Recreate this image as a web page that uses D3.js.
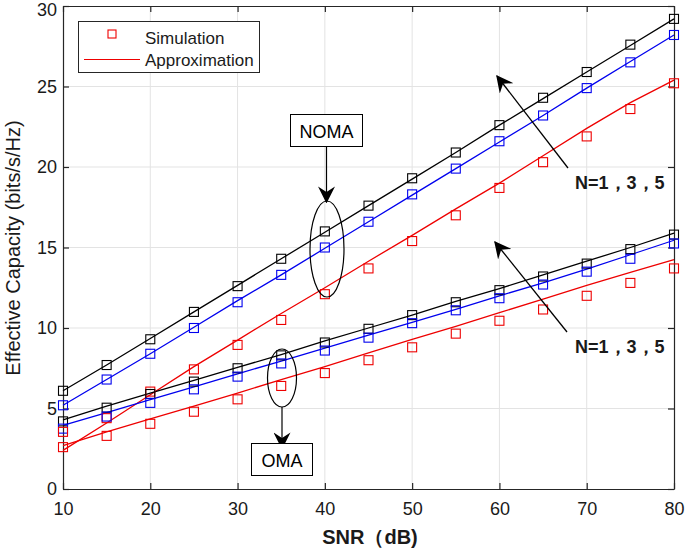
<!DOCTYPE html>
<html><head><meta charset="utf-8">
<script src="https://cdn.jsdelivr.net/npm/d3@7/dist/d3.min.js"></script>
<style>
body{margin:0;background:#fff;}
text{font-family:"Liberation Sans",Arial,Helvetica,sans-serif;}
</style></head>
<body><svg id="chart" width="685" height="548"></svg>
<script>
const snr = [10,15,20,25,30,35,40,45,50,55,60,65,70,75,80];
const xTicks = [10,20,30,40,50,60,70,80];
const yTicks = [0,5,10,15,20,25,30];

// NOMA
const nomaN5Sim = [6.1,7.7,9.3,11.0,12.6,14.3,16.0,17.6,19.3,20.9,22.6,24.3,25.9,27.6,29.2];
const nomaN5App = [6.1,7.7,9.35,11.0,12.65,14.3,15.95,17.6,19.25,20.9,22.6,24.25,25.9,27.55,29.2];
const nomaN3Sim = [5.2,6.8,8.4,10.0,11.6,13.3,15.0,16.6,18.3,19.9,21.6,23.2,24.9,26.5,28.2];
const nomaN3App = [5.2,6.8,8.4,10.05,11.7,13.3,14.95,16.6,18.25,19.9,21.55,23.2,24.9,26.55,28.2];
const nomaN1Sim = [2.6,4.4,6.05,7.43,8.95,10.5,12.1,13.7,15.4,17.0,18.7,20.3,21.9,23.6,25.2];
const nomaN1App = [2.4,4.1,5.85,7.6,9.25,10.9,12.5,14.15,15.75,17.4,19.0,20.7,22.4,24.0,25.4];
// OMA
const omaN5Sim = [4.2,5.05,5.9,6.67,7.5,8.3,9.1,9.95,10.8,11.6,12.35,13.2,14.0,14.9,15.8];
const omaN5App = [4.3,5.15,5.95,6.75,7.55,8.35,9.2,10.0,10.8,11.65,12.45,13.3,14.15,15.0,15.9];
const omaN3Sim = [3.75,4.5,5.35,6.19,6.98,7.8,8.6,9.4,10.3,11.1,11.85,12.7,13.5,14.3,15.25];
const omaN3App = [3.95,4.75,5.55,6.35,7.15,7.95,8.75,9.55,10.35,11.15,12.0,12.8,13.65,14.55,15.45];
const omaN1Sim = [3.55,3.3,4.05,4.8,5.57,6.4,7.2,8.0,8.8,9.65,10.45,11.15,12.0,12.8,13.7];
const omaN1App = [2.7,3.55,4.35,5.15,5.95,6.8,7.6,8.45,9.3,10.1,10.95,11.8,12.65,13.45,14.25];

const seriesNames = ["NOMA N=5","NOMA N=3","NOMA N=1","OMA N=5","OMA N=3","OMA N=1"];
const simData = [nomaN5Sim,nomaN3Sim,nomaN1Sim,omaN5Sim,omaN3Sim,omaN1Sim];
const appData = [nomaN5App,nomaN3App,nomaN1App,omaN5App,omaN3App,omaN1App];
const seriesColors = ["#000000","#0000ee","#ee0000","#000000","#0000ee","#ee0000"];
const legendLabels = ["Simulation","Approximation"];

const svg = d3.select("#chart");
const L = 63, R = 674, T = 6, B = 489;
const x = d3.scaleLinear().domain([10,80]).range([L,R]);
const y = d3.scaleLinear().domain([0,30]).range([B,T]);
const axisCol = "#262626";

svg.append("rect").attr("x",0).attr("y",0).attr("width",685).attr("height",548).attr("fill","#fff");

// grid
const g = svg.append("g");
g.selectAll(".vg").data(xTicks.slice(1,-1)).enter().append("line")
  .attr("x1",d=>x(d)).attr("x2",d=>x(d)).attr("y1",T).attr("y2",B)
  .attr("stroke","#e3e3e3").attr("stroke-width",1);
g.selectAll(".hg").data(yTicks.slice(1,-1)).enter().append("line")
  .attr("y1",d=>y(d)).attr("y2",d=>y(d)).attr("x1",L).attr("x2",R)
  .attr("stroke","#e3e3e3").attr("stroke-width",1);

// axes
const fs = "18px";
const xa = svg.append("g").attr("transform",`translate(0,${B})`)
  .call(d3.axisBottom(x).tickValues(xTicks).tickSizeInner(-6).tickSizeOuter(0).tickPadding(12));
const xaTop = svg.append("g").attr("transform",`translate(0,${T})`)
  .call(d3.axisTop(x).tickValues(xTicks).tickSizeInner(-6).tickSizeOuter(0).tickFormat(""));
const ya = svg.append("g").attr("transform",`translate(${L},0)`)
  .call(d3.axisLeft(y).tickValues(yTicks).tickSizeInner(-6).tickSizeOuter(0).tickPadding(12));
const yaR = svg.append("g").attr("transform",`translate(${R},0)`)
  .call(d3.axisRight(y).tickValues(yTicks).tickSizeInner(-6).tickSizeOuter(0).tickFormat(""));
[xa,xaTop,ya,yaR].forEach(a=>{
  a.select(".domain").attr("stroke",axisCol).attr("stroke-width",1.2);
  a.selectAll(".tick line").attr("stroke",axisCol).attr("stroke-width",1.2);
  a.selectAll("text").attr("fill","#1a1a1a").style("font-size",fs).style("font-family","'Liberation Sans',Arial,sans-serif");
});
ya.selectAll(".tick text").attr("x",-6);
ya.selectAll(".tick").filter(d=>d===30).select("text").attr("dy","0.5em");
xa.selectAll(".tick text").attr("y",13);

// lines
const line = d3.line().x((d,i)=>x(snr[i])).y(d=>y(d));
const plot = svg.append("g");
appData.forEach((arr,k)=>{
  plot.append("path").datum(arr).attr("d",line).attr("fill","none")
    .attr("stroke",seriesColors[k]).attr("stroke-width",1.3);
});
// markers
const ms = 9;
simData.forEach((arr,k)=>{
  plot.selectAll(null).data(arr).enter().append("rect")
    .attr("x",(d,i)=>x(snr[i])-ms/2).attr("y",d=>y(d)-ms/2)
    .attr("width",ms).attr("height",ms).attr("fill","none")
    .attr("stroke",seriesColors[k]).attr("stroke-width",1.1);
});

// legend
const lg = svg.append("g");
lg.append("rect").attr("x",78.5).attr("y",21.5).attr("width",181).attr("height",51)
  .attr("fill","#fff").attr("stroke","#262626").attr("stroke-width",1);
lg.append("rect").attr("x",112-4).attr("y",34-4).attr("width",8).attr("height",8)
  .attr("fill","none").attr("stroke","#ee0000").attr("stroke-width",1.1);
lg.append("line").attr("x1",84).attr("x2",140).attr("y1",59.5).attr("y2",59.5)
  .attr("stroke","#ee0000").attr("stroke-width",1.2);
lg.append("text").attr("x",145).attr("y",44).text(legendLabels[0]).style("font-size","17px").attr("fill","#1a1a1a");
lg.append("text").attr("x",145).attr("y",66).text(legendLabels[1]).style("font-size","17px").attr("fill","#1a1a1a");

// axis labels
svg.append("text").attr("transform","translate(20,248) rotate(-90)").attr("text-anchor","middle")
  .style("font-size","20px").attr("fill","#1a1a1a").text("Effective Capacity (bits/s/Hz)");
svg.append("text").attr("x",370).attr("y",544).attr("text-anchor","middle")
  .style("font-size","20px").style("font-weight","bold").attr("fill","#1a1a1a").text("SNR（dB)");

// annotations
const defs = svg.append("defs");
defs.append("marker").attr("id","ah2").attr("viewBox","0 0 12 12").attr("refX",11).attr("refY",6)
  .attr("markerWidth",17).attr("markerHeight",17).attr("markerUnits","userSpaceOnUse").attr("orient","auto")
  .append("path").attr("d","M0,0 L12,6 L0,12 L4,6 Z").attr("fill","#000");

const ann = svg.append("g");
// NOMA
ann.append("rect").attr("x",290.5).attr("y",114.5).attr("width",72).attr("height",32)
  .attr("fill","#fff").attr("stroke","#000").attr("stroke-width",1);
ann.append("text").attr("x",326.5).attr("y",137.5).attr("text-anchor","middle").style("font-size","18px").text("NOMA");
ann.append("line").attr("x1",326.5).attr("y1",147).attr("x2",326.5).attr("y2",202)
  .attr("stroke","#000").attr("stroke-width",1.2).attr("marker-end","url(#ah2)");
ann.append("ellipse").attr("cx",327).attr("cy",249).attr("rx",17).attr("ry",48)
  .attr("fill","none").attr("stroke","#000").attr("stroke-width",1.2);
// OMA
ann.append("ellipse").attr("cx",282).attr("cy",378).attr("rx",14.5).attr("ry",29)
  .attr("fill","none").attr("stroke","#000").attr("stroke-width",1.2);
ann.append("line").attr("x1",282).attr("y1",407).attr("x2",282).attr("y2",448)
  .attr("stroke","#000").attr("stroke-width",1.2).attr("marker-end","url(#ah2)");
ann.append("rect").attr("x",251.5).attr("y",443.5).attr("width",61).attr("height",32)
  .attr("fill","#fff").attr("stroke","#000").attr("stroke-width",1);
ann.append("text").attr("x",282).attr("y",466.5).attr("text-anchor","middle").style("font-size","18px").text("OMA");
// N arrows
ann.append("line").attr("x1",568).attr("y1",168).attr("x2",497).attr("y2",76)
  .attr("stroke","#000").attr("stroke-width",1.3).attr("marker-end","url(#ah2)");
ann.append("text").attr("x",575).attr("y",189).style("font-size","18px").style("font-weight","bold")
  .attr("fill","#1a1a1a").text("N=1，3，5");
ann.append("line").attr("x1",567).attr("y1",332).attr("x2",495).attr("y2",242)
  .attr("stroke","#000").attr("stroke-width",1.3).attr("marker-end","url(#ah2)");
ann.append("text").attr("x",575).attr("y",353).style("font-size","18px").style("font-weight","bold")
  .attr("fill","#1a1a1a").text("N=1，3，5");
</script></body></html>
